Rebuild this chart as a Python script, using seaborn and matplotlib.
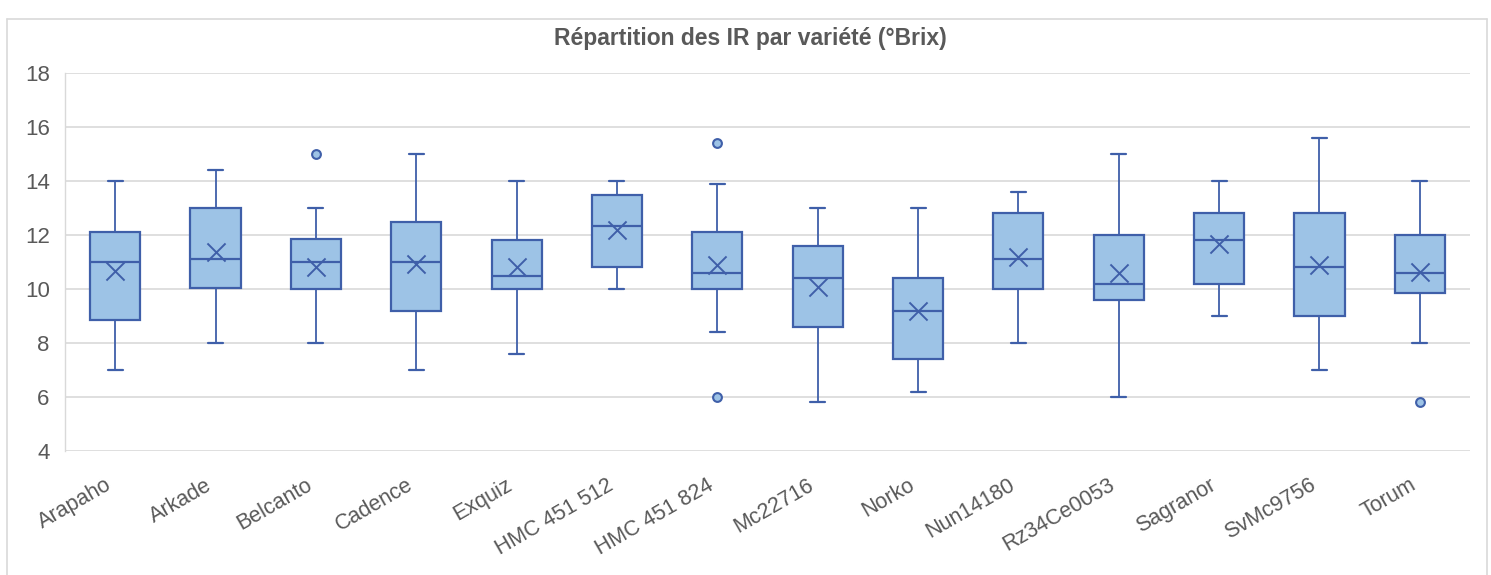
import numpy as np
import pandas as pd
import matplotlib.pyplot as plt
from matplotlib.lines import Line2D
import seaborn as sns

# summary values (°Brix)
varieties = ['Arapaho', 'Arkade', 'Belcanto', 'Cadence', 'Exquiz', 'HMC 451 512', 'HMC 451 824',
             'Mc22716', 'Norko', 'Nun14180', 'Rz34Ce0053', 'Sagranor', 'SvMc9756', 'Torum']
whisk_lo = [7, 8, 8, 7, 7.6, 10, 8.4, 5.8, 6.2, 8, 6, 9, 7, 8]
q1 = [8.85, 10.02, 10, 9.2, 10, 10.8, 10, 8.6, 7.4, 10, 9.6, 10.2, 9, 9.85]
median = [11, 11.12, 11, 11, 10.5, 12.35, 10.6, 10.4, 9.2, 11.1, 10.2, 11.8, 10.8, 10.6]
q3 = [12.12, 13, 11.85, 12.5, 11.8, 13.47, 12.12, 11.6, 10.4, 12.83, 12, 12.8, 12.8, 12]
whisk_hi = [14, 14.4, 13, 15, 14, 14, 13.9, 13, 13, 13.6, 15, 14, 15.6, 14]
mean = [10.67, 11.37, 10.8, 10.93, 10.81, 12.2, 10.88, 10.07, 9.2, 11.19, 10.59, 11.68, 10.89, 10.62]

outlier_variety = ['Belcanto', 'HMC 451 824', 'HMC 451 824', 'Torum']
outlier_value = [15, 15.4, 6, 5.8]

yticks = [4, 6, 8, 10, 12, 14, 16, 18]
title = "Répartition des IR par variété (°Brix)"

fill_c = '#9DC3E6'
edge_c = '#3F5FA9'
grid_c = '#D9D9D9'
text_c = '#595959'

sns.set_style("white")
plt.rcParams['font.family'] = ['Liberation Sans', 'DejaVu Sans']

pos = np.arange(len(varieties))
stats = []
for i, v in enumerate(varieties):
    stats.append(dict(label=v, whislo=whisk_lo[i], q1=q1[i], med=median[i],
                      q3=q3[i], whishi=whisk_hi[i], mean=mean[i], fliers=[]))

means_df = pd.DataFrame({'pos': pos, 'mean': mean})
out_df = pd.DataFrame({'pos': [varieties.index(v) for v in outlier_variety], 'value': outlier_value})

fig = plt.figure(figsize=(14.91, 5.75), dpi=100)
ax = fig.add_axes([65/1491, 1-451/575, (1470-65)/1491, (451-73)/575])

ax.bxp(stats, positions=pos, widths=0.5, capwidths=0.15, patch_artist=True,
       showmeans=False, showfliers=False,
       boxprops=dict(facecolor=fill_c, edgecolor=edge_c, linewidth=1.6),
       medianprops=dict(color=edge_c, linewidth=1.6),
       whiskerprops=dict(color=edge_c, linewidth=1.3),
       capprops=dict(color=edge_c, linewidth=1.6))

sns.scatterplot(data=means_df, x='pos', y='mean', marker='x', s=170, color=edge_c,
                linewidth=1.4, ax=ax, zorder=5)
sns.scatterplot(data=out_df, x='pos', y='value', marker='o', s=40, color=fill_c,
                edgecolor=edge_c, linewidth=1.5, ax=ax, zorder=5)

ax.set_xlim(-0.5, len(varieties) - 0.5)
ax.set_ylim(4, 18)
ax.set_yticks(yticks)
ax.set_yticklabels([str(t) for t in yticks])
ax.set_xticks(pos)
ax.set_xticklabels(varieties, rotation=30, ha='right', va='top')
ax.set_xlabel('')
ax.set_ylabel('')
ax.yaxis.grid(True, color=grid_c, linewidth=1.2)
ax.set_axisbelow(True)
ax.tick_params(axis='y', length=0, pad=11, labelsize=16, labelcolor=text_c)
ax.tick_params(axis='x', length=0, pad=17, labelsize=15.5, labelcolor=text_c)
for s in ['top', 'right', 'bottom']:
    ax.spines[s].set_visible(False)
ax.spines['left'].set_color(grid_c)
ax.spines['left'].set_linewidth(1.0)

fig.text(0.503, 1-39/575, title, ha='center', va='center', fontsize=16.5,
         fontweight='bold', color=text_c)

# chart border (cropped at the bottom)
for xs, ys in [([7/1491, 7/1491], [0, 1-19/575]),
               ([1487/1491, 1487/1491], [0, 1-19/575]),
               ([7/1491, 1487/1491], [1-19/575, 1-19/575])]:
    fig.add_artist(Line2D(xs, ys, color=grid_c, linewidth=1.2))

plt.savefig('out.png', dpi=100)
